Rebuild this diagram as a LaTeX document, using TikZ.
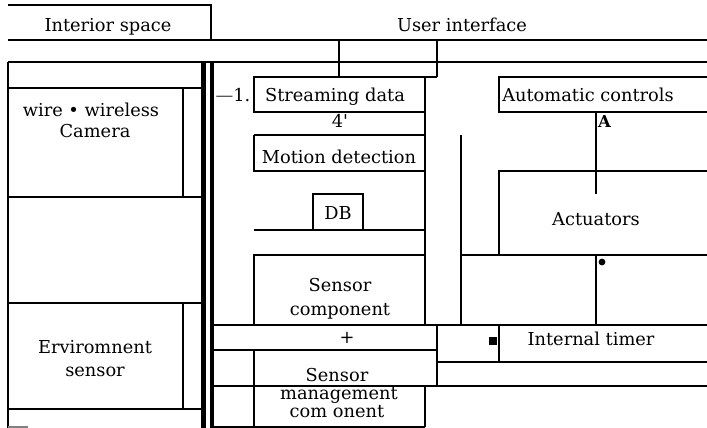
\documentclass[tikz,border=0pt]{standalone}
\usepackage{fontspec}
\setmainfont{DejaVu Serif}[Ligatures=TeXOff]
\begin{document}
\begin{tikzpicture}[x=1pt,y=-1pt,
  ln/.style={line width=2.3pt},
  barA/.style={line width=5pt},
  barB/.style={line width=4pt},
  lbl/.style={anchor=base,inner sep=0pt,font=\fontsize{17.8}{20}\selectfont},
  small/.style={anchor=base west,inner sep=0pt,font=\fontsize{16.5}{18}\selectfont\bfseries},
]
\useasboundingbox (0,0) rectangle (707,428);
% top frame
\draw[ln] (8,5) -- (211,5) -- (211,40);
\draw[ln] (8,40) -- (707,40);
\draw[ln] (8,62) -- (707,62);
\draw[ln] (339,40) -- (339,77);
\draw[ln] (437,40) -- (437,77);
\draw[ln] (339,77) -- (437,77);
% left column
\draw[ln] (8,62) -- (8,428);
\draw[ln] (8,88) -- (202,88);
\draw[ln] (8,197) -- (202,197);
\draw[ln] (8,303) -- (202,303);
\draw[ln] (8,409) -- (202,409);
\draw[ln] (183,88) -- (183,197);
\draw[ln] (183,303) -- (183,409);
\draw[line width=1.2pt,gray] (8,427) -- (28,427);
% double bar
\draw[barA] (203.5,62) -- (203.5,428);
\draw[barB] (212,62) -- (212,428);
% middle column boxes
\draw[ln] (254,77) rectangle (425,112);
\draw[ln] (254,135) -- (425,135);
\draw[ln] (254,135) -- (254,171) -- (425,171);
\draw[ln] (313,230) -- (313,194) -- (363,194) -- (363,230);
\draw[ln] (254,230) -- (425,230);
\draw[ln] (254,325) -- (254,255) -- (425,255);
\draw[ln] (425,77) -- (425,325);
\draw[ln] (461,135) -- (461,325);
% lower band
\draw[ln] (211,325) -- (707,325);
\draw[ln] (211,350) -- (437,350);
\draw[ln] (437,325) -- (437,386);
\draw[ln] (437,362) -- (707,362);
\draw[ln] (499,325) -- (499,362);
\draw[ln] (211,386) -- (707,386);
\draw[ln] (254,350) -- (254,428);
\draw[ln] (425,386) -- (425,427);
\draw[ln] (211,427) -- (425,427);
% right column
\draw[ln] (707,77) -- (499,77) -- (499,112) -- (707,112);
\draw[ln] (596,112) -- (596,194);
\draw[ln] (707,171) -- (499,171) -- (499,255);
\draw[ln] (461,255) -- (707,255);
\draw[ln] (596,255) -- (596,325);
\fill (602,262) circle (3.4pt);
\fill (489,337) rectangle (497,345);
% labels
\node[lbl] (interior) at (108,32) {Interior space};
\node[lbl] (ui) at (462,32) {User interface};
\node[lbl] (cam1) at (91,117) {wire • wireless};
\node[lbl] (cam2) at (95,137) {Camera};
\node[lbl] (env1) at (95,353) {Erviromnent};
\node[lbl] (env2) at (95,376) {sensor};
\node[lbl] (one) at (233,102) {{\color{darkgray}—}1.};
\node[lbl] (stream) at (335,102) {Streaming data};
\node[lbl] (four) at (340,127) {4'};
\node[lbl] (motion) at (339,163) {Motion detection};
\node[lbl] (db) at (338,219) {DB};
\node[lbl] (sc1) at (340,291) {Sensor};
\node[lbl] (sc2) at (340,315) {component};
\node[lbl] (plus) at (347,343) {+};
\node[lbl] (sm1) at (337,381) {Sensor};
\node[lbl] (sm2) at (339,399) {management};
\node[lbl] (sm3) at (337,417) {com onent};
\node[lbl] (auto) at (588,102) {Automatic controls};
\node[small] (A) at (598,127) {A};
\node[lbl] (act) at (596,225) {Actuators};
\node[lbl] (timer) at (591,345) {Internal timer};
\end{tikzpicture}
\end{document}
